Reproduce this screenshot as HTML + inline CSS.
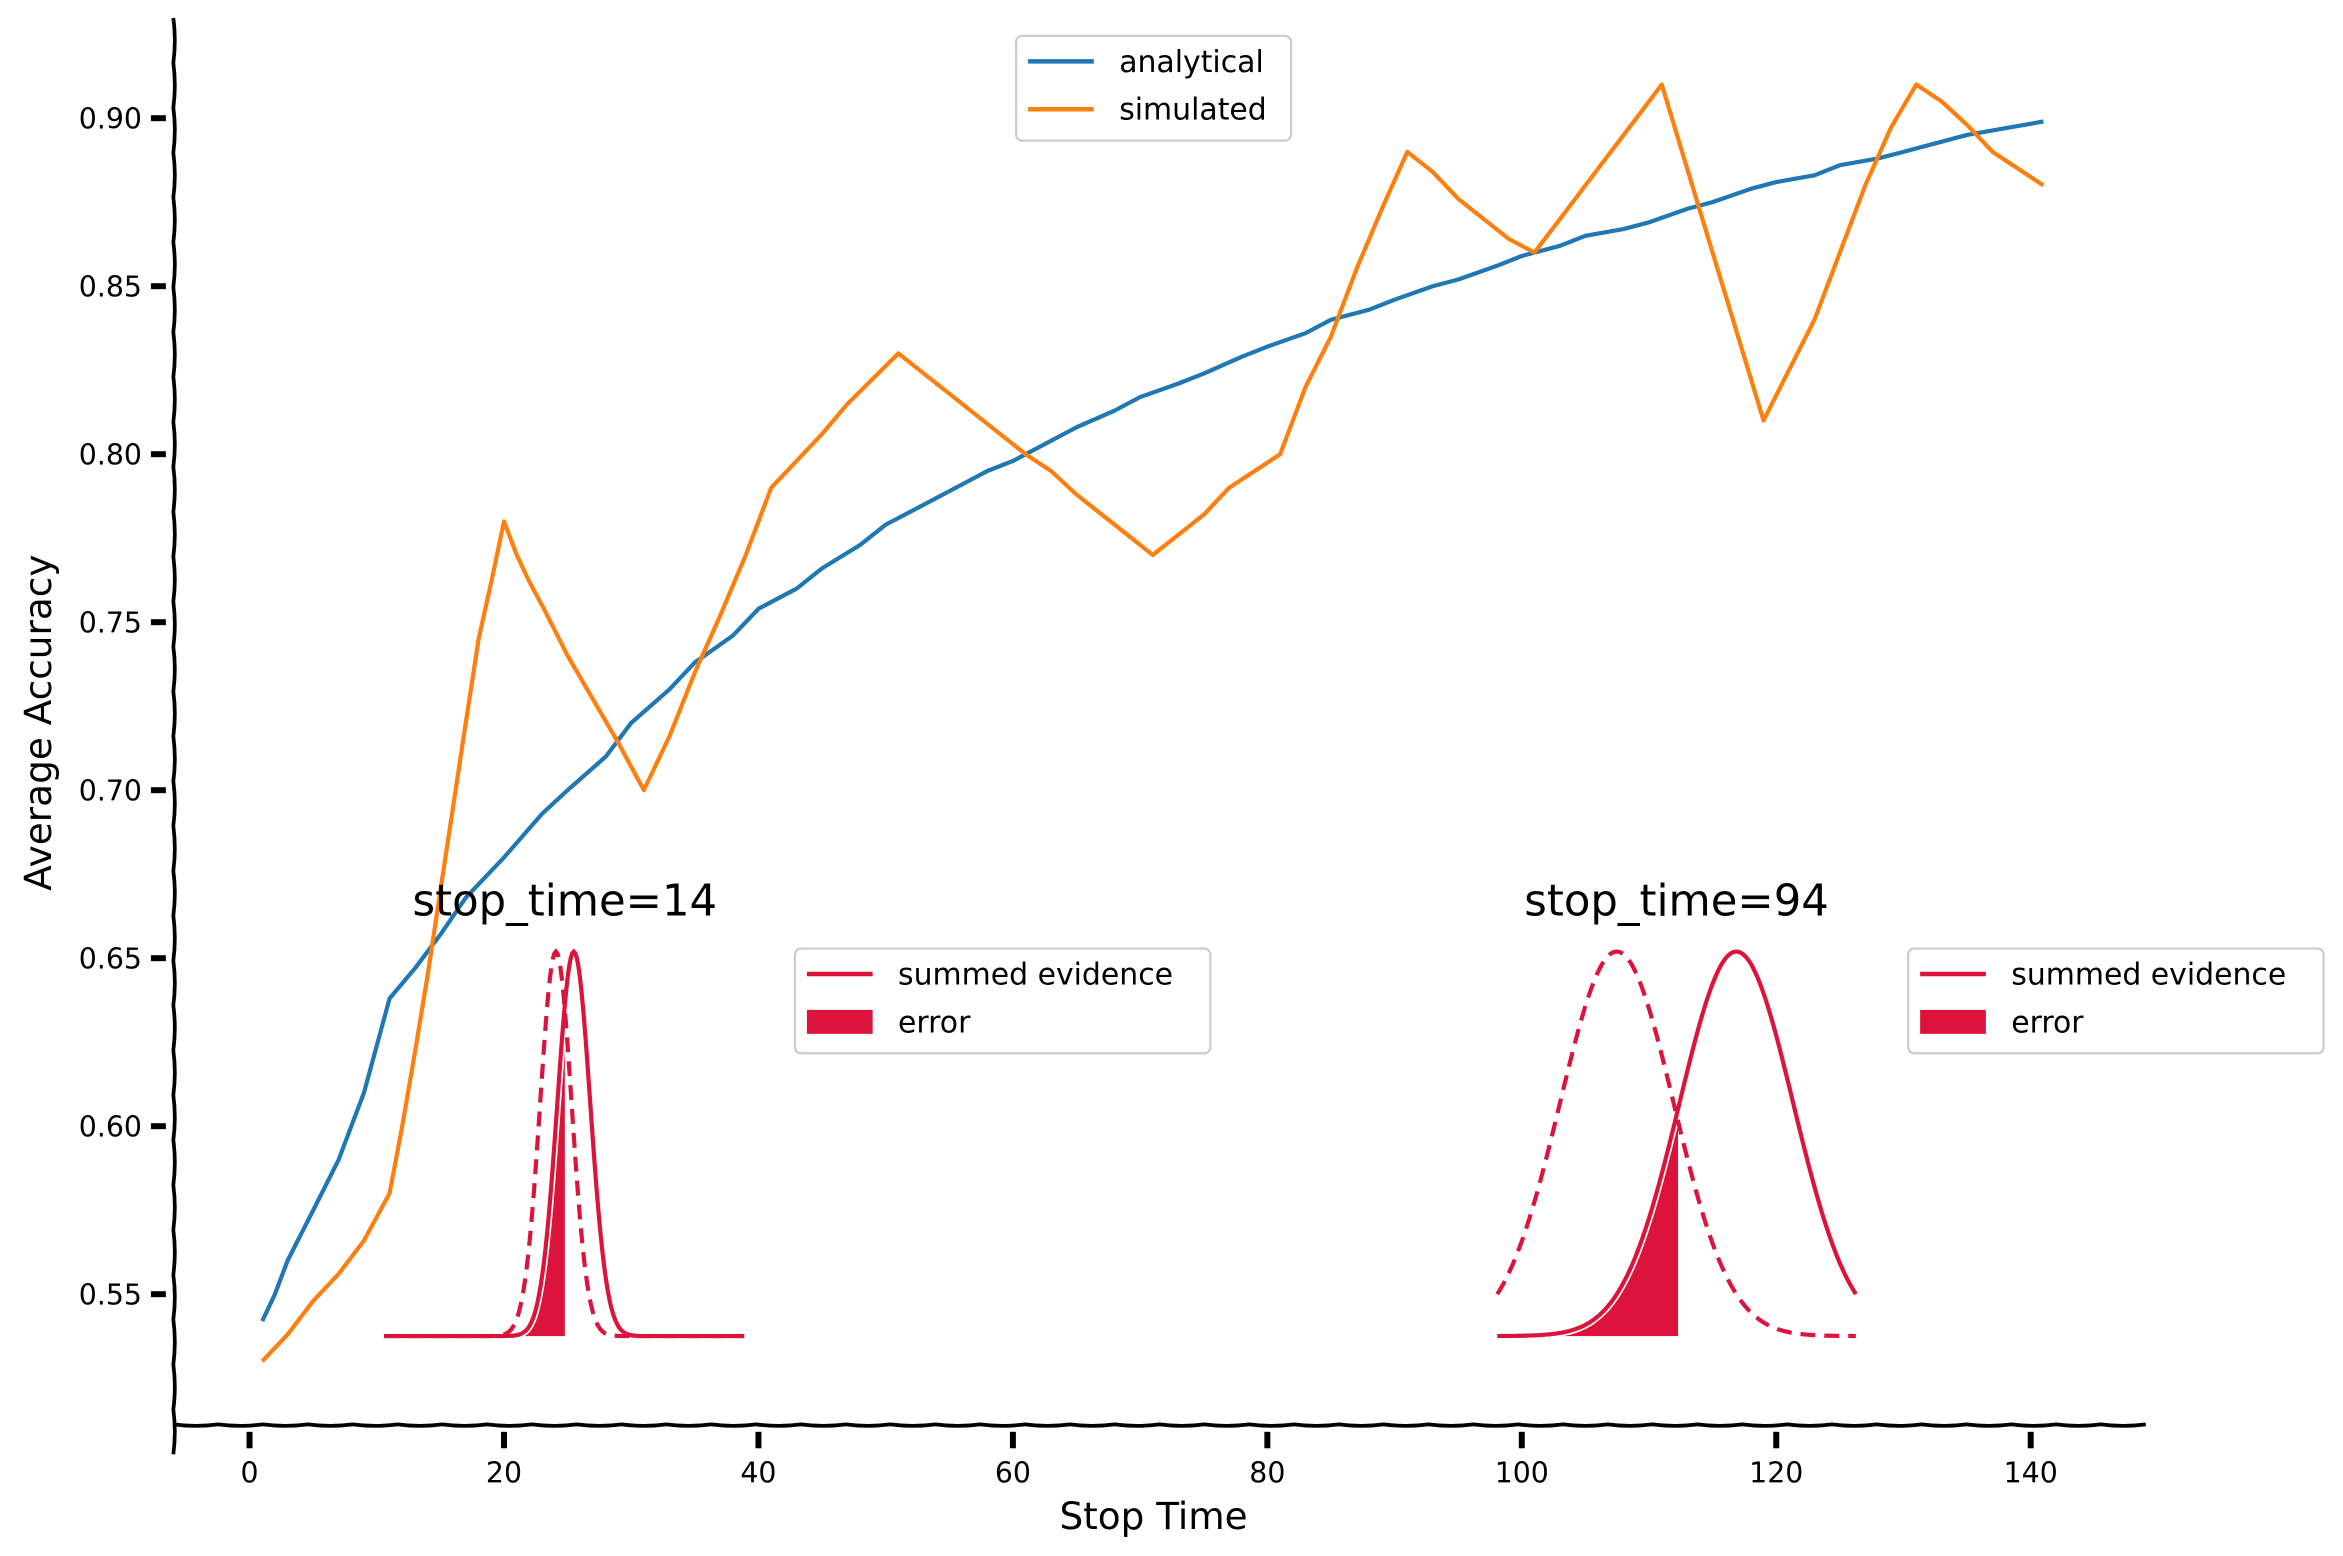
<!DOCTYPE html>
<html><head><meta charset="utf-8"><style>
html,body{margin:0;padding:0;background:#fff}
svg{display:block}
text{font-family:"DejaVu Sans","Liberation Sans",sans-serif;fill:#000}
</style></head><body>
<svg id="chart" width="2343" height="1556" viewBox="0 0 1568 1040" preserveAspectRatio="none" xmlns="http://www.w3.org/2000/svg">
<g id="g"></g>
</svg>
<script>
const xTicks=[0,20,40,60,80,100,120,140];
const yTicks=[0.55,0.60,0.65,0.70,0.75,0.80,0.85,0.90];
const anaX=[1,2,3,5,7,9,11,13,15,17,20,23,25,28,30,33,35,38,40,43,45,48,50,53,55,58,60,63,65,68,70,73,75,78,80,83,85,88,90,93,95,98,100,103,105,108,110,113,115,118,120,123,125,128,130,133,135,138,141];
const anaY=[0.542,0.55,0.56,0.575,0.59,0.61,0.638,0.647,0.657,0.668,0.68,0.693,0.700,0.71,0.72,0.73,0.738,0.746,0.754,0.76,0.766,0.773,0.779,0.785,0.789,0.795,0.798,0.804,0.808,0.813,0.817,0.821,0.824,0.829,0.832,0.836,0.840,0.843,0.846,0.850,0.852,0.856,0.859,0.862,0.865,0.867,0.869,0.873,0.875,0.879,0.881,0.883,0.886,0.888,0.890,0.893,0.895,0.897,0.899];
const simX=[1,3,5,7,9,11,12,13,14,15,16,17,18,19,20,21,22,23,25,27,29,31,33,35,37,39,41,43,45,47,51,53,55,57,61,63,65,67,71,73,75,77,81,82,83,85,87,89,91,93,95,97,99,101,103,105,107,109,111,113,115,117,119,121,123,125,127,129,131,133,135,137,139,141];
const simY=[0.53,0.538,0.548,0.556,0.566,0.58,0.6,0.622,0.645,0.67,0.695,0.72,0.745,0.762,0.78,0.77,0.762,0.755,0.74,0.727,0.714,0.70,0.716,0.735,0.752,0.77,0.79,0.798,0.806,0.815,0.83,0.824,0.818,0.812,0.80,0.795,0.788,0.782,0.77,0.776,0.782,0.79,0.80,0.81,0.82,0.835,0.855,0.873,0.89,0.884,0.876,0.87,0.864,0.86,0.87,0.88,0.89,0.90,0.91,0.885,0.86,0.835,0.81,0.825,0.84,0.86,0.88,0.897,0.91,0.905,0.898,0.89,0.885,0.88];
// inset distributions: [summedMean, summedSd, errorMean, errorSd] in pixel-space of insets
const inset1=[384,11,372,10.5];
const inset2=[1162,38,1082,38];
const insetTitles=["stop_time=14","stop_time=94"];
const NS="http://www.w3.org/2000/svg";
const g=document.getElementById('g');
const X=v=>167+(v)*(1359-167)/140;
const Y=v=>79+(0.90-v)*(865-79)/0.35;
function el(t,a,txt){const e=document.createElementNS(NS,t);for(const k in a)e.setAttribute(k,a[k]);if(txt!=null)e.textContent=txt;g.appendChild(e);return e;}
let p="M116 12";for(let y=12;y<=948;y+=30)p+=` Q${116+((y/30)%2?2:-2)} ${y+15} 116 ${y+30}`;
const ya=el('path',{d:p,stroke:'#000','stroke-width':2.5,fill:'none'});

p="M116 952";for(let x=116;x<1428;x+=30)p+=` Q${x+15} ${952+((x/30)%2?2:-2)} ${x+30} 952`;
const xa=el('path',{d:p,stroke:'#000','stroke-width':2.5,fill:'none'});

xTicks.forEach(t=>{const l=el('line',{x1:X(t),x2:X(t),y1:957,y2:968,stroke:'#000','stroke-width':4});

const tx=el('text',{x:X(t),y:991,'font-size':19,'text-anchor':'middle'},t);
});
yTicks.forEach(t=>{const l=el('line',{x1:101,x2:111,y1:Y(t),y2:Y(t),stroke:'#000','stroke-width':4});

const tx=el('text',{x:95,y:Y(t)+7,'font-size':19,'text-anchor':'end'},t.toFixed(2));
});
const xt=el('text',{x:772,y:1022,'font-size':25,'text-anchor':'middle'},'Stop Time');

const yt=el('text',{x:0,y:0,'font-size':25,'text-anchor':'middle',transform:'translate(34 483) rotate(-90)'},'Average Accuracy');

function line(xs,ys,c,name){const d=xs.map((x,i)=>(i?'L':'M')+X(x).toFixed(1)+' '+Y(ys[i]).toFixed(1)).join(' ');
const e=el('path',{d,stroke:c,'stroke-width':2.8,fill:'none','stroke-linejoin':'round'});
}
line(anaX,anaY,'#1f77b4','analytical-line');
line(simX,simY,'#ff7f0e','simulated-line');
function inset(par,x0,x1,fillTo,title,cx){const base=893,h=257;const red='#dc143c';
const f=(m,s,x)=>base-h*Math.exp(-0.5*((x-m)/s)**2);
let ds='',dd='',df=`M${x0} ${base}`;
for(let x=x0;x<=x1;x+=1){ds+=(x==x0?'M':'L')+x+' '+f(par[0],par[1],x).toFixed(1);dd+=(x==x0?'M':'L')+x+' '+f(par[2],par[3],x).toFixed(1);
if(x<=fillTo)df+=` L${x} ${f(par[0],par[1],x).toFixed(1)}`;}
df+=` L${fillTo} ${base} Z`;
const a=el('path',{d:df,fill:red});
const w=el('path',{d:ds,stroke:'#fff','stroke-width':5,fill:'none'});
const b=el('path',{d:ds,stroke:red,'stroke-width':2.8,fill:'none'});
const c=el('path',{d:dd,stroke:red,'stroke-width':2.8,fill:'none','stroke-dasharray':'10 6'});
const t=el('text',{x:cx,y:612,'font-size':29,'text-anchor':'middle'},title);}
inset(inset1,257,498,378,insetTitles[0],378);
inset(inset2,1002,1242,1123,insetTitles[1],1122);
function legend(x,y,w,h,items,name){const r=el('rect',{x,y,width:w,height:h,rx:4,fill:'#fff',stroke:'#ccc','stroke-width':1.5});

items.forEach((it,i)=>{const yy=y+17+i*32;
if(it.fill){const s=el('rect',{x:x+8,y:yy-8,width:44,height:16,fill:it.c});}
else{const s=el('line',{x1:x+8,x2:x+52,y1:yy,y2:yy,stroke:it.c,'stroke-width':3});}
const t=el('text',{x:x+69,y:yy+7,'font-size':20},it.l);});}
legend(680,24,184,70,[{c:'#1f77b4',l:'analytical'},{c:'#ff7f0e',l:'simulated'}],'main-legend');
legend(532,634,278,70,[{c:'#dc143c',l:'summed evidence'},{c:'#dc143c',l:'error',fill:1}],'inset1-legend');
legend(1277,634,278,70,[{c:'#dc143c',l:'summed evidence'},{c:'#dc143c',l:'error',fill:1}],'inset2-legend');
</script>
</body></html>
